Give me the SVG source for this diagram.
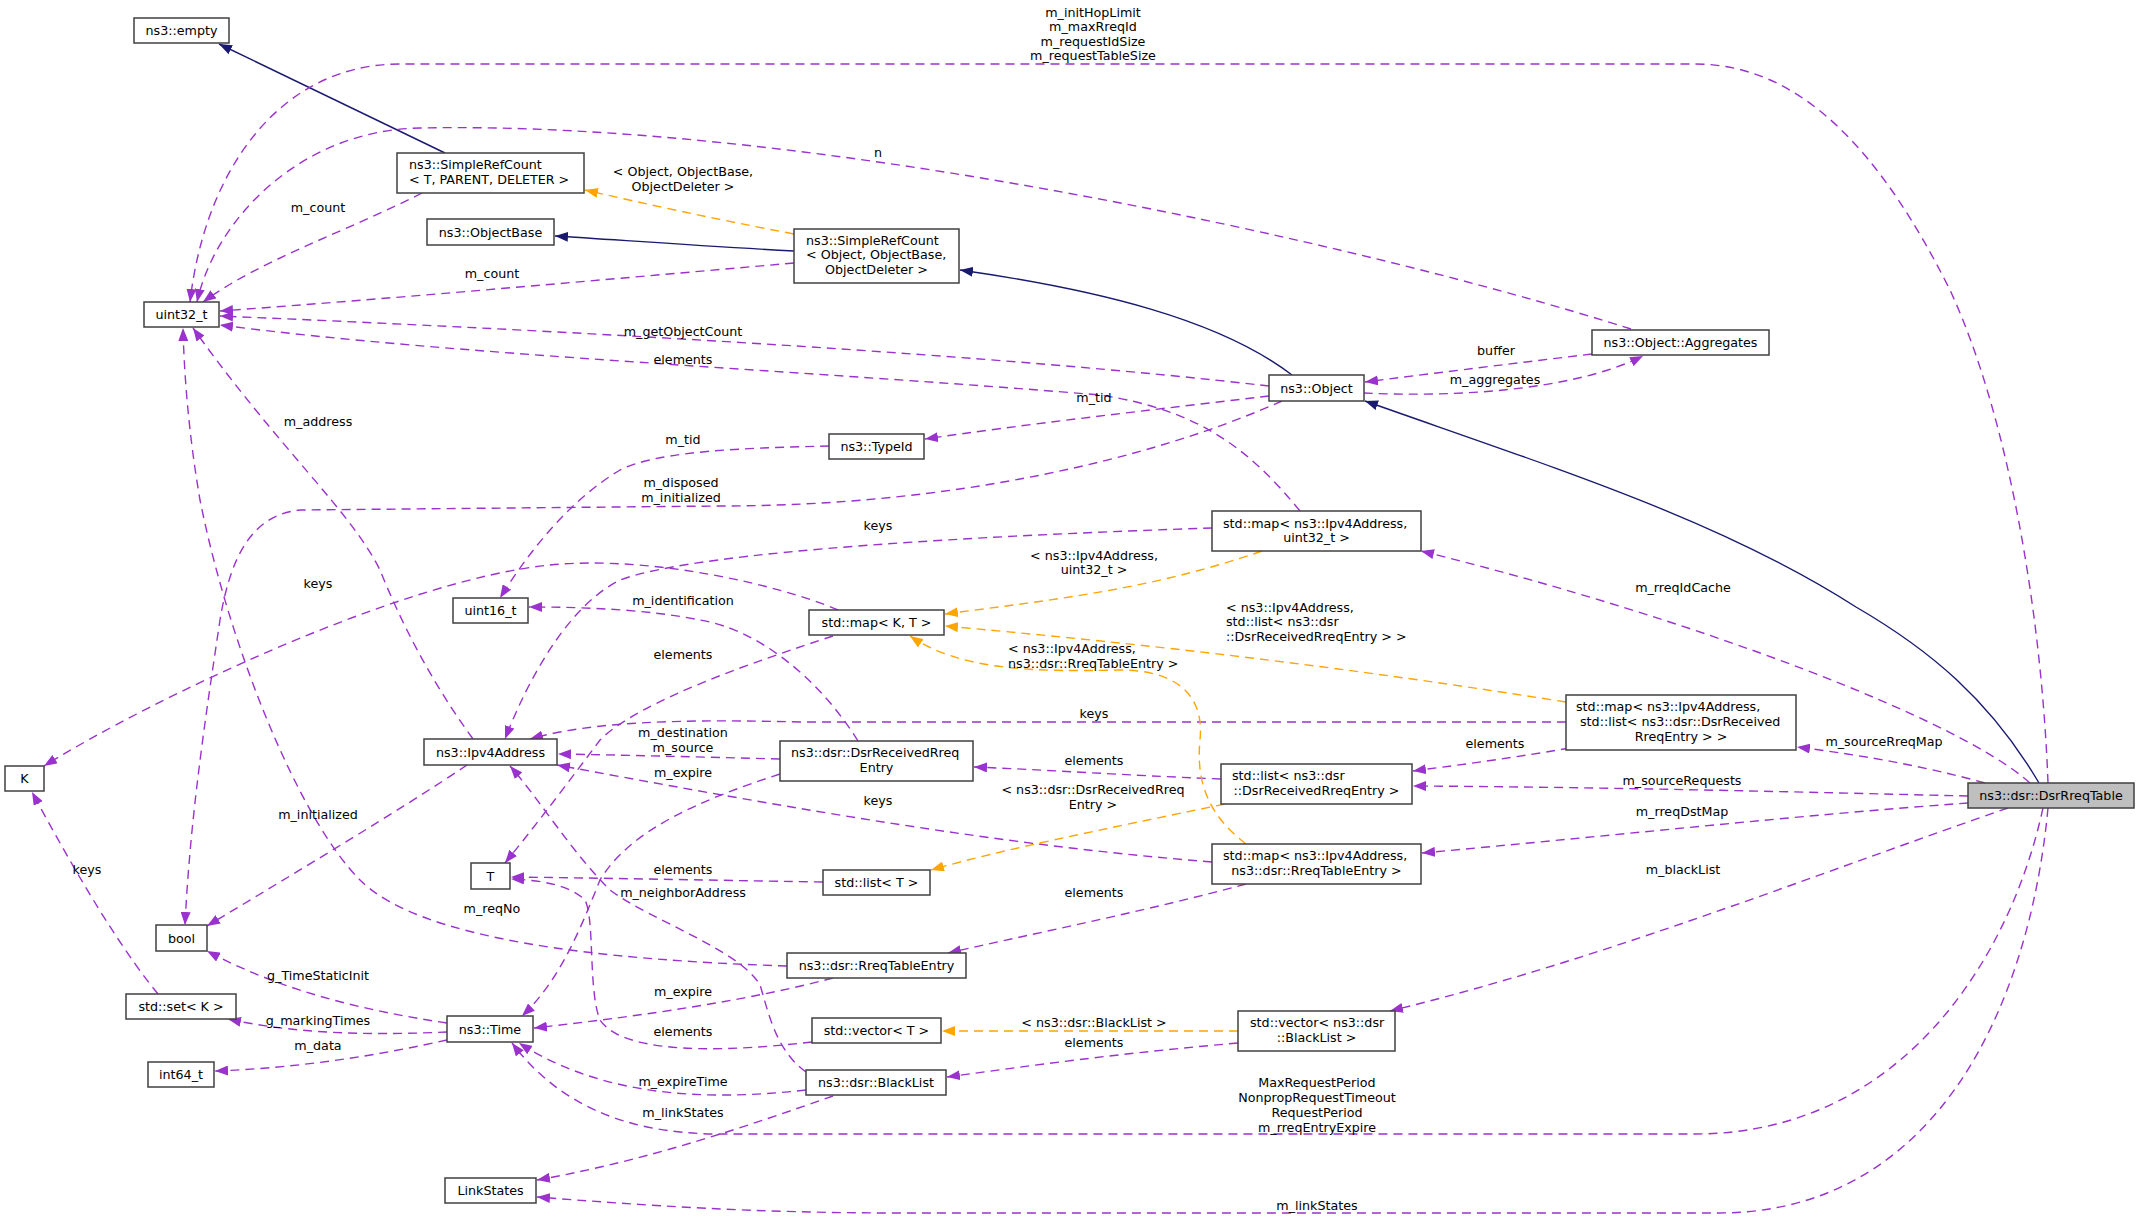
<svg xmlns="http://www.w3.org/2000/svg" width="2143" height="1219" viewBox="0 0 2143 1219">
<style>
text{font-family:"DejaVu Sans","Liberation Sans",sans-serif;font-size:12.7px;fill:#000}
.c{text-anchor:middle}
.node rect{fill:#fff;stroke:#404040;stroke-width:1.5}
.node rect.main{fill:#bfbfbf}
.e path{fill:none;stroke-width:1.4}
.p{stroke:#9a32cd;stroke-dasharray:9,6}
.o{stroke:#ffa500;stroke-dasharray:9,6}
.i{stroke:#191970}
</style>
<defs>
<marker id="ap" markerUnits="userSpaceOnUse" markerWidth="13" markerHeight="10" viewBox="0 0 13 10" refX="13" refY="5" orient="auto"><path d="M0,0 L13,5 L0,10 z" fill="#9a32cd"/></marker>
<marker id="ao" markerUnits="userSpaceOnUse" markerWidth="13" markerHeight="10" viewBox="0 0 13 10" refX="13" refY="5" orient="auto"><path d="M0,0 L13,5 L0,10 z" fill="#ffa500"/></marker>
<marker id="ai" markerUnits="userSpaceOnUse" markerWidth="13" markerHeight="10" viewBox="0 0 13 10" refX="13" refY="5" orient="auto"><path d="M0,0 L13,5 L0,10 z" fill="#191970"/></marker>
</defs>
<rect width="2143" height="1219" fill="#fff"/>
<g id="edges" class="e">
<path class="i" marker-end="url(#ai)" d="M445,153 L219,44"/>
<path class="i" marker-end="url(#ai)" d="M794,251 C700,246 620,240 555,236"/>
<path class="i" marker-end="url(#ai)" d="M1292,375 C1220,320 1100,290 960,270"/>
<path class="i" marker-end="url(#ai)" d="M2039,783 C1990,700 1930,650 1856,607 C1720,520 1560,470 1365,401"/>
<path class="p" marker-end="url(#ap)" d="M2048,783 C2042,620 2010,420 1950,290 C1880,150 1800,64 1695,64 L400,64 C280,64 205,170 190,302"/>
<path class="p" marker-end="url(#ap)" d="M2030,783 C1960,720 1700,620 1421,551"/>
<path class="p" marker-end="url(#ap)" d="M1985,783 C1920,765 1860,755 1797,747"/>
<path class="p" marker-end="url(#ap)" d="M1968,796 C1800,792 1600,787 1413,786"/>
<path class="p" marker-end="url(#ap)" d="M1968,803 C1800,815 1600,837 1422,853"/>
<path class="p" marker-end="url(#ap)" d="M2008,808 C1800,880 1600,960 1390,1011"/>
<path class="p" marker-end="url(#ap)" d="M2043,808 C2010,960 1900,1134 1695,1134 L720,1134 C620,1134 555,1100 512,1043"/>
<path class="p" marker-end="url(#ap)" d="M2048,808 C2030,1000 1940,1213 1718,1213 L900,1213 C750,1213 640,1205 537,1197"/>
<path class="p" marker-end="url(#ap)" d="M1269,386 C1000,355 600,332 220,316"/>
<path class="p" marker-end="url(#ap)" d="M1364,393 C1450,397 1570,392 1643,356"/>
<path class="p" marker-end="url(#ap)" d="M1592,354 C1500,365 1420,375 1365,382"/>
<path class="p" marker-end="url(#ap)" d="M1631,329 C1350,240 800,120 420,128 C300,130 215,220 197,302"/>
<path class="p" marker-end="url(#ap)" d="M1269,396 C1150,410 1020,425 925,439"/>
<path class="p" marker-end="url(#ap)" d="M1282,401 C1150,460 950,506 720,506 L300,510 C250,515 230,560 220,620 C205,720 190,820 185,925"/>
<path class="p" marker-end="url(#ap)" d="M829,446 C750,448 660,450 620,470 C570,500 530,550 500,598"/>
<path class="p" marker-end="url(#ap)" d="M1300,511 C1250,450 1200,410 1100,395 C800,370 450,355 220,325"/>
<path class="p" marker-end="url(#ap)" d="M1212,528 C1000,535 700,550 620,580 C560,610 520,700 505,739"/>
<path class="o" marker-end="url(#ao)" d="M1262,551 C1150,590 1050,600 945,614"/>
<path class="o" marker-end="url(#ao)" d="M1566,702 C1300,660 1100,640 945,626"/>
<path class="p" marker-end="url(#ap)" d="M1566,722 L800,722 C650,718 580,725 530,739"/>
<path class="p" marker-end="url(#ap)" d="M1570,748 C1500,760 1450,766 1413,771"/>
<path class="p" marker-end="url(#ap)" d="M1221,779 C1120,775 1050,770 974,767"/>
<path class="o" marker-end="url(#ao)" d="M1225,804 C1100,830 1000,850 931,870"/>
<path class="o" marker-end="url(#ao)" d="M1246,844 C1215,820 1195,790 1200,740 C1205,690 1170,670 1120,670 C1030,672 960,670 910,636"/>
<path class="p" marker-end="url(#ap)" d="M1212,862 C1000,845 800,810 557,765"/>
<path class="p" marker-end="url(#ap)" d="M1246,884 C1150,910 1050,930 948,953"/>
<path class="p" marker-end="url(#ap)" d="M838,610 C780,585 650,555 550,565 C400,580 150,700 44,766"/>
<path class="p" marker-end="url(#ap)" d="M833,636 C760,660 640,700 600,740 C570,780 540,820 505,863"/>
<path class="p" marker-end="url(#ap)" d="M858,741 C820,680 760,630 700,620 C650,610 590,607 529,607"/>
<path class="p" marker-end="url(#ap)" d="M780,759 C700,757 620,755 558,754"/>
<path class="p" marker-end="url(#ap)" d="M780,774 C700,800 630,830 600,880 C580,930 560,980 522,1016"/>
<path class="p" marker-end="url(#ap)" d="M823,882 C700,880 600,878 511,877"/>
<path class="p" marker-end="url(#ap)" d="M787,966 C600,960 420,940 360,880 C300,820 230,650 200,500 C188,430 184,370 183,328"/>
<path class="p" marker-end="url(#ap)" d="M473,739 C430,680 400,620 380,570 C350,510 280,450 193,328"/>
<path class="p" marker-end="url(#ap)" d="M833,978 C750,1000 650,1015 534,1028"/>
<path class="p" marker-end="url(#ap)" d="M812,1042 C700,1055 620,1050 600,1020 C588,990 595,920 585,900 C570,885 540,880 511,879"/>
<path class="p" marker-end="url(#ap)" d="M806,1072 C775,1050 768,1010 760,985 C740,950 650,920 610,890 C570,850 540,800 510,766"/>
<path class="p" marker-end="url(#ap)" d="M806,1090 C700,1102 600,1095 519,1043"/>
<path class="p" marker-end="url(#ap)" d="M833,1096 C750,1125 650,1160 537,1180"/>
<path class="o" marker-end="url(#ao)" d="M1238,1031 L942,1031"/>
<path class="p" marker-end="url(#ap)" d="M1238,1043 C1100,1055 1000,1070 947,1077"/>
<path class="p" marker-end="url(#ap)" d="M447,1023 C360,1010 280,990 207,951"/>
<path class="p" marker-end="url(#ap)" d="M447,1032 C380,1035 300,1035 228,1019"/>
<path class="p" marker-end="url(#ap)" d="M447,1040 C380,1055 300,1068 215,1071"/>
<path class="p" marker-end="url(#ap)" d="M158,994 C130,960 90,900 32,792"/>
<path class="p" marker-end="url(#ap)" d="M467,765 C400,810 300,870 207,926"/>
<path class="p" marker-end="url(#ap)" d="M422,193 C350,230 260,260 203,302"/>
<path class="p" marker-end="url(#ap)" d="M794,263 C600,280 400,298 220,311"/>
<path class="o" marker-end="url(#ao)" d="M794,234 C720,220 650,205 585,190"/>
</g>
<g id="labels">
<text class="c" x="1093" y="17">m_initHopLimit</text>
<text class="c" x="1093" y="31">m_maxRreqId</text>
<text class="c" x="1093" y="46">m_requestIdSize</text>
<text class="c" x="1093" y="60">m_requestTableSize</text>
<text class="c" x="878" y="157">n</text>
<text class="c" x="683" y="176">&lt; Object, ObjectBase,</text>
<text class="c" x="683" y="191">ObjectDeleter &gt;</text>
<text class="c" x="318" y="212">m_count</text>
<text class="c" x="492" y="278">m_count</text>
<text class="c" x="683" y="336">m_getObjectCount</text>
<text class="c" x="683" y="364">elements</text>
<text class="c" x="1496" y="355">buffer</text>
<text class="c" x="1495" y="384">m_aggregates</text>
<text class="c" x="1094" y="402">m_tid</text>
<text class="c" x="318" y="426">m_address</text>
<text class="c" x="683" y="444">m_tid</text>
<text class="c" x="681" y="487">m_disposed</text>
<text class="c" x="681" y="502">m_initialized</text>
<text class="c" x="878" y="530">keys</text>
<text class="c" x="1094" y="560">&lt; ns3::Ipv4Address,</text>
<text class="c" x="1094" y="574">uint32_t &gt;</text>
<text class="c" x="1683" y="592">m_rreqIdCache</text>
<text class="c" x="318" y="588">keys</text>
<text class="c" x="683" y="605">m_identification</text>
<text x="1226" y="612">&lt; ns3::Ipv4Address,</text>
<text x="1226" y="626">std::list&lt; ns3::dsr</text>
<text x="1226" y="641">::DsrReceivedRreqEntry &gt; &gt;</text>
<text x="1008" y="653">&lt; ns3::Ipv4Address,</text>
<text x="1008" y="668">ns3::dsr::RreqTableEntry &gt;</text>
<text class="c" x="683" y="659">elements</text>
<text class="c" x="1094" y="718">keys</text>
<text class="c" x="683" y="737">m_destination</text>
<text class="c" x="683" y="752">m_source</text>
<text class="c" x="1495" y="748">elements</text>
<text class="c" x="1884" y="746">m_sourceRreqMap</text>
<text class="c" x="1094" y="765">elements</text>
<text class="c" x="683" y="777">m_expire</text>
<text class="c" x="1682" y="785">m_sourceRequests</text>
<text class="c" x="1093" y="794">&lt; ns3::dsr::DsrReceivedRreq</text>
<text class="c" x="1093" y="809">Entry &gt;</text>
<text class="c" x="878" y="805">keys</text>
<text class="c" x="1682" y="816">m_rreqDstMap</text>
<text class="c" x="318" y="819">m_initialized</text>
<text class="c" x="87" y="874">keys</text>
<text class="c" x="683" y="874">elements</text>
<text class="c" x="1683" y="874">m_blackList</text>
<text class="c" x="683" y="897">m_neighborAddress</text>
<text class="c" x="1094" y="897">elements</text>
<text class="c" x="492" y="913">m_reqNo</text>
<text class="c" x="318" y="980">g_TimeStaticInit</text>
<text class="c" x="683" y="996">m_expire</text>
<text class="c" x="318" y="1025">g_markingTimes</text>
<text class="c" x="1094" y="1027">&lt; ns3::dsr::BlackList &gt;</text>
<text class="c" x="683" y="1036">elements</text>
<text class="c" x="1094" y="1047">elements</text>
<text class="c" x="318" y="1050">m_data</text>
<text class="c" x="683" y="1086">m_expireTime</text>
<text class="c" x="1317" y="1087">MaxRequestPeriod</text>
<text class="c" x="1317" y="1102">NonpropRequestTimeout</text>
<text class="c" x="1317" y="1117">RequestPeriod</text>
<text class="c" x="1317" y="1132">m_rreqEntryExpire</text>
<text class="c" x="683" y="1117">m_linkStates</text>
<text class="c" x="1317" y="1210">m_linkStates</text>
</g>
<g id="n_empty" class="node"><rect x="134" y="18" width="95" height="25"/><text class="c" x="181.5" y="35">ns3::empty</text></g>
<g id="n_srcT" class="node"><rect x="397" y="153" width="187" height="40"/><text x="409" y="168.5">ns3::SimpleRefCount</text><text x="409" y="183.5">&lt; T, PARENT, DELETER &gt;</text></g>
<g id="n_objbase" class="node"><rect x="427" y="219" width="127" height="26"/><text class="c" x="490.5" y="236.5">ns3::ObjectBase</text></g>
<g id="n_u32" class="node"><rect x="144" y="302" width="75" height="25"/><text class="c" x="181.5" y="319">uint32_t</text></g>
<g id="n_srcO" class="node"><rect x="794" y="229" width="165" height="54"/><text x="806" y="244.5">ns3::SimpleRefCount</text><text x="806" y="259">&lt; Object, ObjectBase,</text><text class="c" x="876.5" y="273.5">ObjectDeleter &gt;</text></g>
<g id="n_obj" class="node"><rect x="1269" y="375" width="95" height="26"/><text class="c" x="1316.5" y="392.5">ns3::Object</text></g>
<g id="n_agg" class="node"><rect x="1592" y="330" width="177" height="25"/><text class="c" x="1680.5" y="347">ns3::Object::Aggregates</text></g>
<g id="n_typeid" class="node"><rect x="829" y="434" width="95" height="25"/><text class="c" x="876.5" y="451">ns3::TypeId</text></g>
<g id="n_u16" class="node"><rect x="453" y="598" width="75" height="25"/><text class="c" x="490.5" y="615">uint16_t</text></g>
<g id="n_mapIU" class="node"><rect x="1212" y="511" width="209" height="40"/><text x="1223" y="527.5">std::map&lt; ns3::Ipv4Address,</text><text class="c" x="1316.5" y="541.5">uint32_t &gt;</text></g>
<g id="n_K" class="node"><rect x="5" y="766" width="39" height="25"/><text class="c" x="24.5" y="783">K</text></g>
<g id="n_mapKT" class="node"><rect x="809" y="610" width="135" height="25"/><text class="c" x="876.5" y="627">std::map&lt; K, T &gt;</text></g>
<g id="n_ipv4" class="node"><rect x="424" y="739" width="133" height="26"/><text class="c" x="490.5" y="756.5">ns3::Ipv4Address</text></g>
<g id="n_drre" class="node"><rect x="780" y="741" width="193" height="40"/><text x="791" y="756.5">ns3::dsr::DsrReceivedRreq</text><text class="c" x="876.5" y="771.5">Entry</text></g>
<g id="n_mapIL" class="node"><rect x="1566" y="695" width="230" height="55"/><text x="1576" y="710.5">std::map&lt; ns3::Ipv4Address,</text><text x="1580" y="726">std::list&lt; ns3::dsr::DsrReceived</text><text class="c" x="1681" y="741">RreqEntry &gt; &gt;</text></g>
<g id="n_listD" class="node"><rect x="1221" y="764" width="191" height="40"/><text x="1232" y="779.5">std::list&lt; ns3::dsr</text><text class="c" x="1316.5" y="794.5">::DsrReceivedRreqEntry &gt;</text></g>
<g id="n_T" class="node"><rect x="471" y="863" width="39" height="26"/><text class="c" x="490.5" y="880.5">T</text></g>
<g id="n_listT" class="node"><rect x="823" y="870" width="107" height="25"/><text class="c" x="876.5" y="887">std::list&lt; T &gt;</text></g>
<g id="n_mapIR" class="node"><rect x="1212" y="844" width="209" height="40"/><text x="1223" y="859.5">std::map&lt; ns3::Ipv4Address,</text><text class="c" x="1316.5" y="874.5">ns3::dsr::RreqTableEntry &gt;</text></g>
<g id="n_table" class="node"><rect class="main" x="1968" y="783" width="166" height="25"/><text class="c" x="2051" y="800">ns3::dsr::DsrRreqTable</text></g>
<g id="n_bool" class="node"><rect x="156" y="925" width="51" height="26"/><text class="c" x="181.5" y="942.5">bool</text></g>
<g id="n_rte" class="node"><rect x="787" y="953" width="179" height="25"/><text class="c" x="876.5" y="970">ns3::dsr::RreqTableEntry</text></g>
<g id="n_set" class="node"><rect x="126" y="994" width="110" height="25"/><text class="c" x="181" y="1011">std::set&lt; K &gt;</text></g>
<g id="n_time" class="node"><rect x="447" y="1016" width="86" height="26"/><text class="c" x="490" y="1033.5">ns3::Time</text></g>
<g id="n_vecT" class="node"><rect x="812" y="1018" width="129" height="25"/><text class="c" x="876.5" y="1035">std::vector&lt; T &gt;</text></g>
<g id="n_vecB" class="node"><rect x="1238" y="1011" width="157" height="40"/><text x="1250" y="1026.5">std::vector&lt; ns3::dsr</text><text class="c" x="1316.5" y="1041.5">::BlackList &gt;</text></g>
<g id="n_i64" class="node"><rect x="148" y="1062" width="66" height="25"/><text class="c" x="181" y="1079">int64_t</text></g>
<g id="n_bl" class="node"><rect x="806" y="1070" width="140" height="25"/><text class="c" x="876" y="1087">ns3::dsr::BlackList</text></g>
<g id="n_ls" class="node"><rect x="445" y="1178" width="91" height="25"/><text class="c" x="490.5" y="1195">LinkStates</text></g>
</svg>
